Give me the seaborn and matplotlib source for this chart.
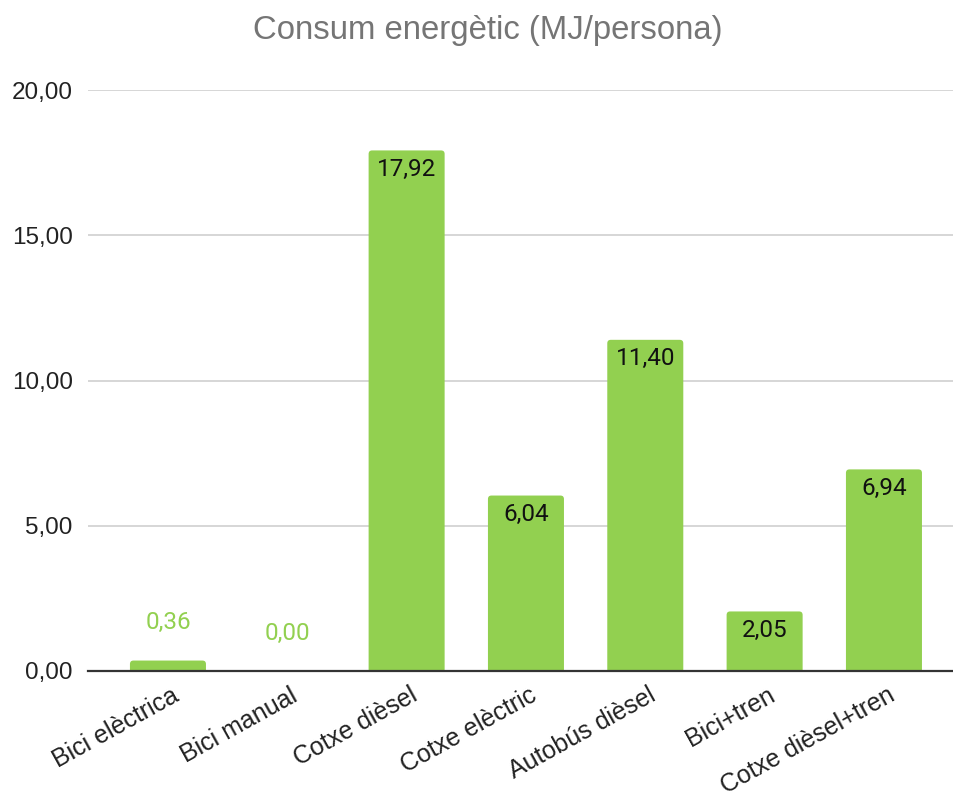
import matplotlib
matplotlib.use("Agg")
import matplotlib.pyplot as plt
from matplotlib.patches import FancyBboxPatch
from matplotlib.transforms import ScaledTranslation
import seaborn as sns
import pandas as pd

# Energy consumption per person by transport mode
modes = ["Bici elèctrica", "Bici manual", "Cotxe dièsel", "Cotxe elèctric",
         "Autobús dièsel", "Bici+tren", "Cotxe dièsel+tren"]
consum = [0.36, 0.00, 17.92, 6.04, 11.40, 2.05, 6.94]
y_ticks = [0, 5, 10, 15, 20]

GREEN = "#92d050"
df = pd.DataFrame({"mode": modes, "consum": consum})

sns.set_theme(style="white")
plt.rcParams["font.family"] = ["Roboto", "DejaVu Sans"]

fig = plt.figure(figsize=(9.54, 7.96), dpi=100)
ax = fig.add_axes([88 / 954, 1 - 671 / 796, 1 - 88 / 954, (671 - 90) / 796])

sns.barplot(data=df, x="mode", y="consum", color=GREEN, saturation=1,
            width=0.637, ax=ax, zorder=3)

ax.set_xlim(-0.67, 6.587)
ax.set_ylim(0, 20)

# Replace square bars by ones with slightly rounded tops
px_x = 119.33   # pixels per category
px_y = 29.05    # pixels per unit
r = 3.5
for p in list(ax.patches):
    x0, w, h = p.get_x(), p.get_width(), p.get_height()
    p.set_visible(False)
    if h <= 0:
        continue
    ext = r / px_y
    fb = FancyBboxPatch((x0, -ext), w, h + ext,
                        boxstyle=f"round,pad=0,rounding_size={r / px_x}",
                        mutation_aspect=px_x / px_y,
                        facecolor=GREEN, edgecolor="none", zorder=3)
    ax.add_patch(fb)

# Value labels: inside the bar when tall enough, above it otherwise
for i, v in enumerate(consum):
    txt = f"{v:.2f}".replace(".", ",")
    if v >= 1:
        ax.annotate(txt, (i, v), xytext=(0, -19), textcoords="offset pixels",
                    ha="center", va="center", fontsize=17.5, color="#111111",
                    zorder=5)
    else:
        ax.annotate(txt, (i, v), xytext=(0, 38), textcoords="offset pixels",
                    ha="center", va="center", fontsize=17.5, color=GREEN,
                    zorder=5)

ax.set_yticks(y_ticks)
ax.set_yticklabels([f"{t:.2f}".replace(".", ",") for t in y_ticks],
                   fontsize=17.5, color="#222222", family=["Liberation Sans"])
ax.tick_params(axis="y", length=0, pad=11)
ax.tick_params(axis="x", length=0, pad=0)
ax.set_xticks(range(len(modes)))
ax.set_xticklabels(modes, rotation=29, ha="right", va="baseline",
                   rotation_mode="anchor",
                   fontsize=18, color="#222222", family=["Liberation Sans"])
shift = ScaledTranslation(12 / 100, -29 / 100, fig.dpi_scale_trans)
for lbl in ax.get_xticklabels():
    lbl.set_transform(lbl.get_transform() + shift)

ax.yaxis.grid(True, color="#cccccc", linewidth=1.1, zorder=0)
ax.xaxis.grid(False)
for s in ["top", "right", "left"]:
    ax.spines[s].set_visible(False)
ax.spines["bottom"].set_color("#333333")
ax.spines["bottom"].set_linewidth(1.6)
ax.spines["bottom"].set_zorder(4)
ax.set_xlabel("")
ax.set_ylabel("")

fig.text(488 / 954, 1 - 30 / 796, "Consum energètic (MJ/persona)",
         ha="center", va="center", fontsize=23.7, color="#757575",
         family=["Liberation Sans"])

fig.savefig("out.png", dpi=100)
